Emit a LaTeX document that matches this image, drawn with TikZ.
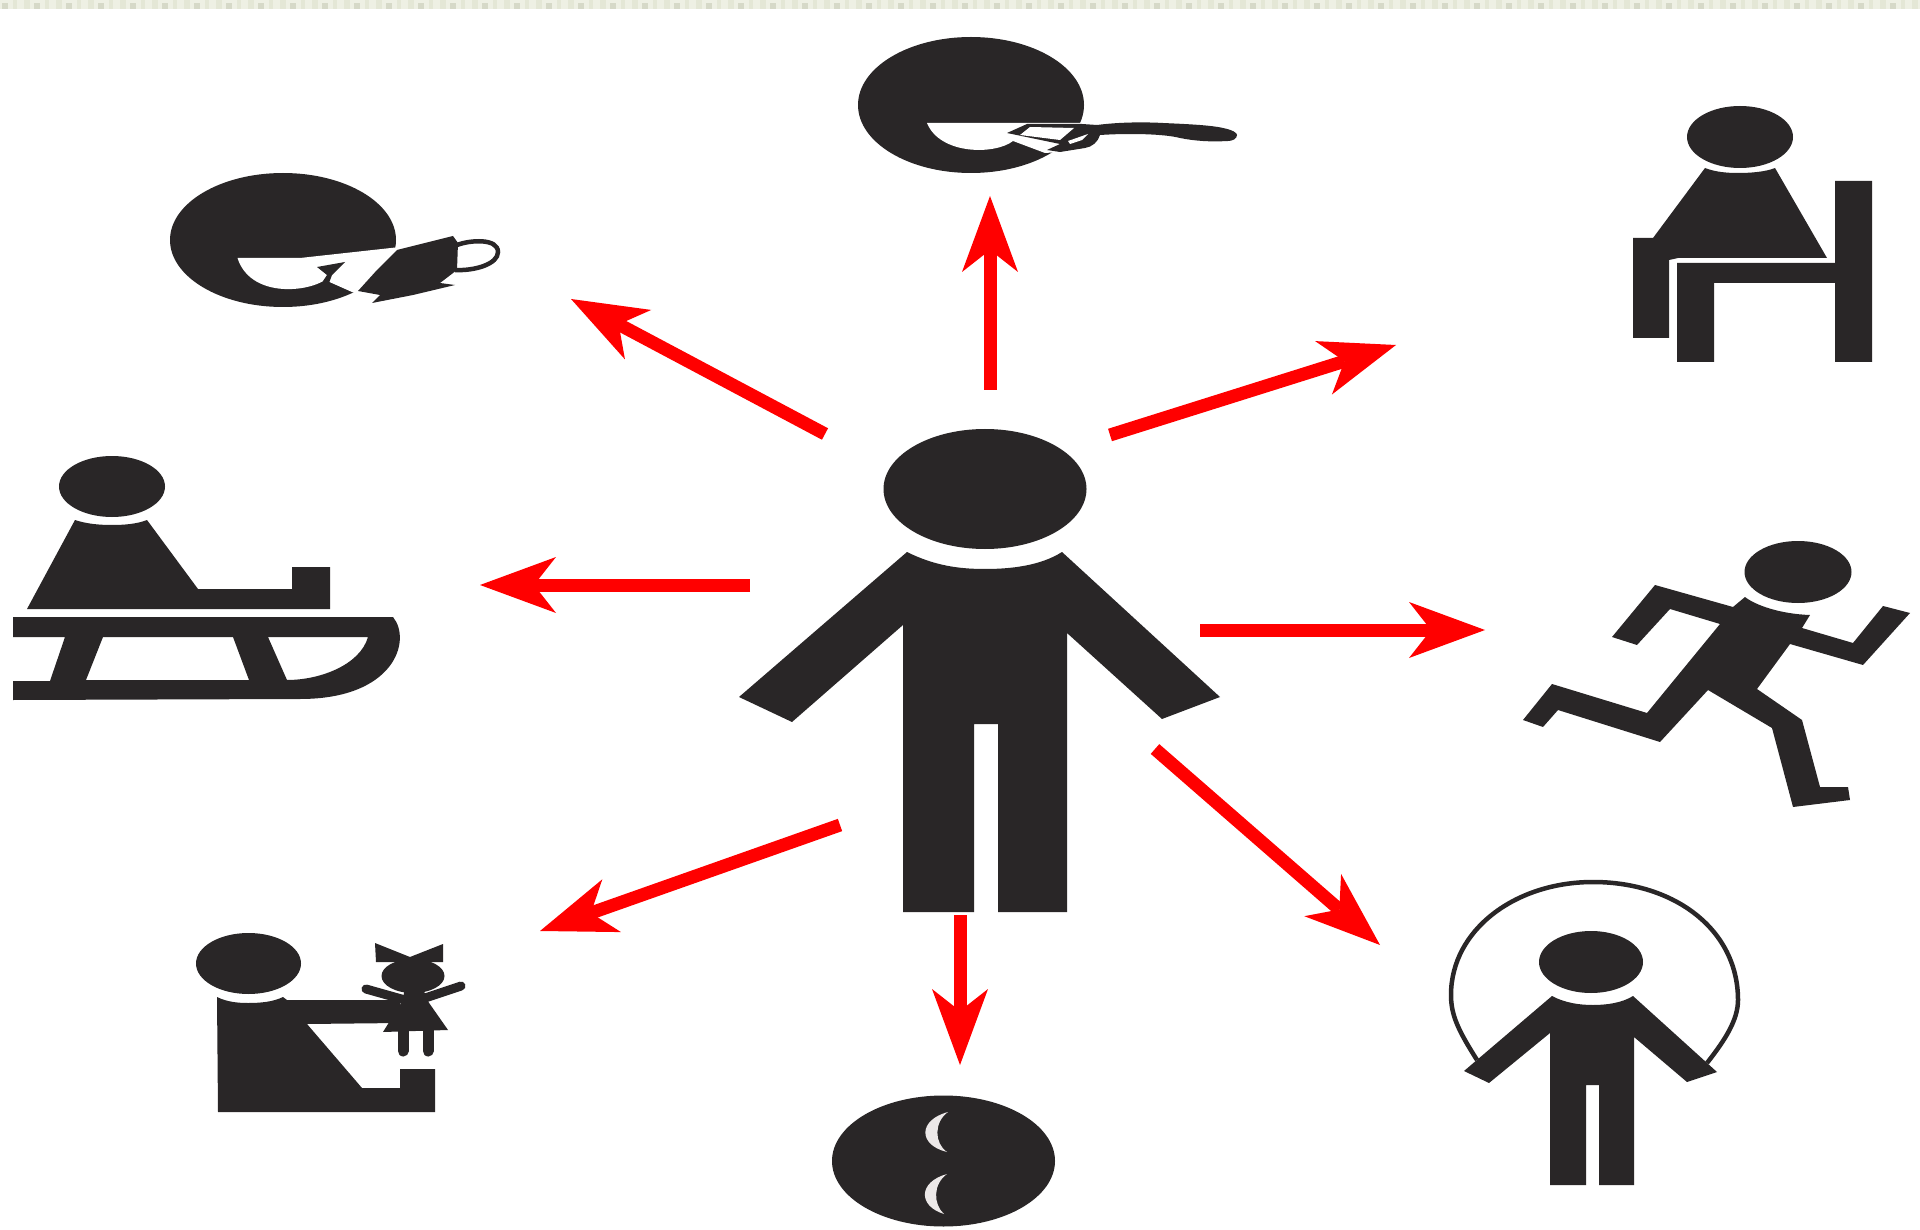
\documentclass[tikz,border=0pt]{standalone}
\usepackage{xcolor}
\usetikzlibrary{arrows.meta,shapes.geometric}
\definecolor{inkBlack}{RGB}{41,38,39}
\definecolor{pointerRed}{RGB}{255,0,0}
\definecolor{stripBase}{RGB}{238,240,228}
\definecolor{stripLine}{RGB}{228,231,214}
\definecolor{stripSpot}{RGB}{214,217,200}
\definecolor{moonGray}{RGB}{236,232,232}
\tikzset{
  head/.style={ellipse, fill=inkBlack, inner sep=0pt, outer sep=0pt},
  ink/.style={fill=inkBlack, draw=none},
  gap/.style={fill=white, draw=none},
  wire/.style={draw=inkBlack, line width=4.5pt, fill=none},
  limb/.style={draw=inkBlack, line width=9pt, line cap=round},
  pointer/.style={-{Stealth[length=76pt, width=56pt, inset=22pt, line width=0pt]}, line width=13pt, color=pointerRed}
}

\begin{document}
\begin{tikzpicture}[x=1pt, y=-1pt]
  \useasboundingbox[fill=white] (0,0) rectangle (1920,1230);

  \fill[stripBase] (0,0) rectangle (1920,9);
  \foreach \i in {0,...,60} {
    \fill[stripLine] (\i*32+13,0) rectangle (\i*32+17,9);
    \fill[stripLine] (\i*32+24,0) rectangle (\i*32+28,9);
    \fill[stripLine] (\i*32-6,0) rectangle (\i*32-2,9);
    \fill[stripSpot] (\i*32+2,3) rectangle (\i*32+8,9);
  }

  \node[head, minimum width=203pt, minimum height=120pt] (manhead) at (985,489) {};
  \fill[ink] (907,552) .. controls (935,566) and (960,569) .. (985,569)
    .. controls (1010,569) and (1040,566) .. (1062,552)
    -- (1220,697) -- (1162,719) -- (1067,633) -- (1067,912) -- (998,912) -- (998,724)
    -- (974,724) -- (974,912) -- (903,912) -- (903,625) -- (792,722) -- (739,697) -- cycle;

  \node[head, minimum width=226pt, minimum height=134pt] (cuphead) at (283,240) {};
  \fill[gap] (237.5,258) -- (300,258) -- (400,247) -- (392,270) -- (360,295) -- (352,292) -- (325,280)
    .. controls (305,293) and (250,297) .. (237.5,258) -- cycle;
  \fill[ink] (317,267) -- (345,262) -- (332,275) -- (329,283) -- (323,281) -- (327,275) -- cycle;
  \fill[ink] (358,291) -- (377,270) -- (397,250) -- (453,236) -- (458,243) -- (457,270) -- (440,283) -- (455,285)
    -- (413,295) -- (372,303) -- (380,295) -- cycle;
  \draw[wire] (457,245) .. controls (470,240) and (498,238) .. (498,252)
    .. controls (498,264) and (475,271) .. (455,270);

  \node[head, minimum width=226pt, minimum height=136pt] (spoonhead) at (971,105) {};
  \fill[gap] (927,123) -- (1084,123) -- (1084,140) -- (1060,152) -- (1045,153) -- (1013,141)
    .. controls (995,155) and (940,155) .. (927,123) -- cycle;
  \fill[ink] (1007,133) -- (1027,124) -- (1082,124) -- (1097,125) .. controls (1120,122) and (1145,122) .. (1163,123)
    .. controls (1185,124) and (1210,125) .. (1223,128) .. controls (1233,130) and (1237,133) .. (1237,135)
    .. controls (1237,139) and (1232,141) .. (1228,141) .. controls (1210,142) and (1195,141) .. (1180,138)
    .. controls (1165,134) and (1130,133) .. (1100,135) .. controls (1098,142) and (1092,147) .. (1085,148)
    -- (1060,152) -- (1047,150) -- (1060,144) -- cycle;
  \fill[gap] (1030,127) -- (1074,128) -- (1060,140) -- (1020,135) -- cycle;
  \fill[gap] (1068,141) -- (1088,134) -- (1082,140) -- (1070,144) -- cycle;

  \node[head, minimum width=106pt, minimum height=62pt] (chairhead) at (1740,137) {};
  \fill[ink] (1705,168) .. controls (1715,172) and (1727,173) .. (1738,173)
    .. controls (1750,173) and (1765,172) .. (1775,168)
    -- (1827,258) -- (1678,258) -- (1669,260) -- (1669,338) -- (1633,338) -- (1633,238) -- (1653,238) -- cycle;
  \fill[ink] (1835,181) -- (1872,181) -- (1872,362) -- (1835,362) -- (1835,283) -- (1714,283) -- (1714,362)
    -- (1677,362) -- (1677,263) -- (1835,263) -- cycle;

  \node[head, minimum width=106pt, minimum height=61pt] (sledhead) at (112,486.5) {};
  \fill[ink] (75,520) .. controls (87,524) and (100,525) .. (112,525)
    .. controls (124,525) and (137,524) .. (147,520)
    -- (198,589) -- (292,589) -- (292,567) -- (330,567) -- (330,609) -- (27,609) -- cycle;
  \fill[ink, even odd rule] (13,617) -- (393,617) .. controls (412,640) and (395,699) .. (300,699) -- (13,700)
    -- (13,681) -- (50,681) -- (65,637) -- (13,637) -- cycle
    (103,637) -- (233,637) -- (249,680) -- (86,680) -- cycle
    (268,637) -- (368,637) .. controls (360,665) and (320,680) .. (287,680) -- cycle;

  \node[head, minimum width=105pt, minimum height=61pt] (dollhead) at (248.5,963.5) {};
  \fill[ink] (217,997) .. controls (227,1002) and (238,1003) .. (248,1003)
    .. controls (260,1003) and (273,1002) .. (283,997) -- (287,1000) -- (400,1000) -- (400,1023) -- (307,1024)
    -- (362,1088) -- (400,1088) -- (400,1069) -- (435,1069) -- (435,1112) -- (218,1112) -- cycle;
  \node[head, minimum width=63pt, minimum height=34pt] (toyhead) at (413,976) {};
  \fill[ink] (375,943) -- (410,957) -- (443,944) -- (443,962) -- (376,962) -- cycle;
  \fill[ink] (405,985) -- (422,985) -- (427,1000) -- (448,1030) -- (383,1032) -- (403,1000) -- cycle;
  \draw[limb] (366,989) -- (405,1000);
  \draw[limb] (461,986) -- (425,998);
  \draw[limb, line width=11pt] (403,1030) -- (403,1051);
  \draw[limb, line width=11pt] (428,1030) -- (428,1051);

  \node[head, minimum width=107pt, minimum height=62pt] (runhead) at (1798,572) {};
  \fill[ink] (1745,597) .. controls (1755,605) and (1780,614) .. (1810,615) -- (1802,628) -- (1853,643) -- (1883,606)
    -- (1910,613) -- (1863,665) -- (1790,644) -- (1757,689) -- (1802,720) -- (1820,787) -- (1848,787)
    -- (1850,800) -- (1793,807) -- (1772,728) -- (1708,690) -- (1660,742) -- (1558,710) -- (1543,727)
    -- (1523,720) -- (1552,684) -- (1647,713) -- (1720,624) -- (1670,609) -- (1637,645) -- (1612,637)
    -- (1655,585) -- (1733,607) -- cycle;

  \node[head, minimum width=104pt, minimum height=62pt] (ropehead) at (1591,962) {};
  \fill[ink] (1552,996) .. controls (1565,1003) and (1580,1005) .. (1593,1005)
    .. controls (1606,1005) and (1622,1003) .. (1633,996)
    -- (1717,1072) -- (1687,1082) -- (1634,1037) -- (1634,1185) -- (1599,1185) -- (1599,1085) -- (1586,1085)
    -- (1586,1185) -- (1550,1185) -- (1550,1033) -- (1489,1083) -- (1464,1071) -- cycle;
  \draw[wire] (1477,1060) .. controls (1458,1030) and (1451,1015) .. (1451,995)
    .. controls (1451,930) and (1515,882) .. (1593,882)
    .. controls (1675,882) and (1738,930) .. (1738,1000)
    .. controls (1738,1020) and (1725,1040) .. (1707,1063);

  \node[head, minimum width=223pt, minimum height=131pt] (sleephead) at (943.5,1161) {};
  \fill[moonGray] (948,1112) .. controls (918,1120) and (918,1145) .. (947,1152)
    .. controls (934,1143) and (934,1122) .. (948,1112) -- cycle;
  \fill[moonGray] (947,1174) .. controls (918,1182) and (918,1206) .. (944,1214)
    .. controls (933,1204) and (933,1184) .. (947,1174) -- cycle;

  \coordinate (upfrom) at (990,390);
  \coordinate (upto) at (990,196);
  \coordinate (chairfrom) at (1110,435);
  \coordinate (chairto) at (1396,345);
  \coordinate (runfrom) at (1200,630);
  \coordinate (runto) at (1485,630);
  \coordinate (ropefrom) at (1155,749);
  \coordinate (ropeto) at (1380,945);
  \coordinate (sleepfrom) at (960,915);
  \coordinate (sleepto) at (960,1065);
  \coordinate (dollfrom) at (840,825);
  \coordinate (dollto) at (540,931);
  \coordinate (sledfrom) at (750,585);
  \coordinate (sledto) at (480,585);
  \coordinate (cupfrom) at (825,434);
  \coordinate (cupto) at (571,299);

  \draw[pointer] (upfrom) -- (upto);
  \draw[pointer] (chairfrom) -- (chairto);
  \draw[pointer] (runfrom) -- (runto);
  \draw[pointer] (ropefrom) -- (ropeto);
  \draw[pointer] (sleepfrom) -- (sleepto);
  \draw[pointer] (dollfrom) -- (dollto);
  \draw[pointer] (sledfrom) -- (sledto);
  \draw[pointer] (cupfrom) -- (cupto);
\end{tikzpicture}
\end{document}
